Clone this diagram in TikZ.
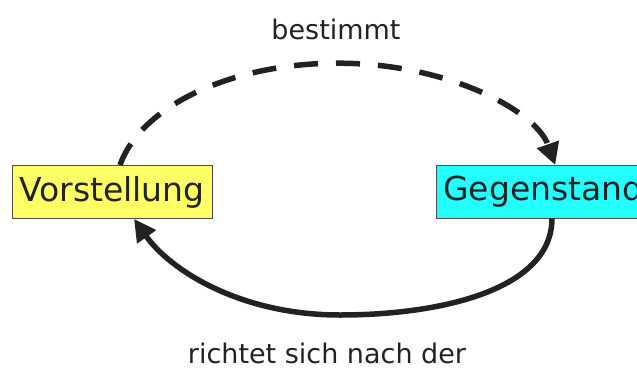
\documentclass[tikz,border=0pt]{standalone}
\usepackage{fontspec}
\setmainfont{DejaVu Sans}
\usetikzlibrary{arrows.meta}
\definecolor{ink}{HTML}{222222}
\definecolor{boxyellow}{HTML}{FFFF66}
\definecolor{boxcyan}{HTML}{22FFFF}
\begin{document}
\begin{tikzpicture}[x=1pt,y=-1pt,
  conceptbox/.style={draw=ink!80, line width=0.8pt, minimum height=53pt, inner xsep=5pt, inner ysep=0pt,
    font=\fontsize{33}{33}\selectfont, text=ink},
  labeltext/.style={font=\fontsize{27}{27}\selectfont, text=ink},
  link/.style={draw=ink, line width=5.5pt, -{Triangle[length=22pt,width=22pt]}}
]
\useasboundingbox (0,0) rectangle (637,370);
\clip (0,0) rectangle (637,370);
\node[conceptbox, fill=boxyellow, minimum width=200pt] (V) at (112,192) {Vorstellung};
\node[conceptbox, fill=boxcyan, anchor=west, inner xsep=7pt] (G) at (436,191.5) {Gegenstand};
\node[labeltext] (B) at (336,29) {bestimmt};
\node[labeltext] (R) at (327,353) {richtet sich nach der};
\coordinate (Vtop) at (V.north -| 120,0);
\coordinate (Gbot) at (G.south -| 552,0);
\coordinate (Vbot) at (V.south -| 134,0);
\draw[link, dash pattern=on 24pt off 18pt] (Vtop) arc[start angle=191.4, end angle=348.6, x radius=222, y radius=127];
\draw[link] (Gbot) .. controls (552,290) and (440,315) .. (340,315)
  .. controls (240,315) and (170,270) .. (Vbot);
\end{tikzpicture}
\end{document}
